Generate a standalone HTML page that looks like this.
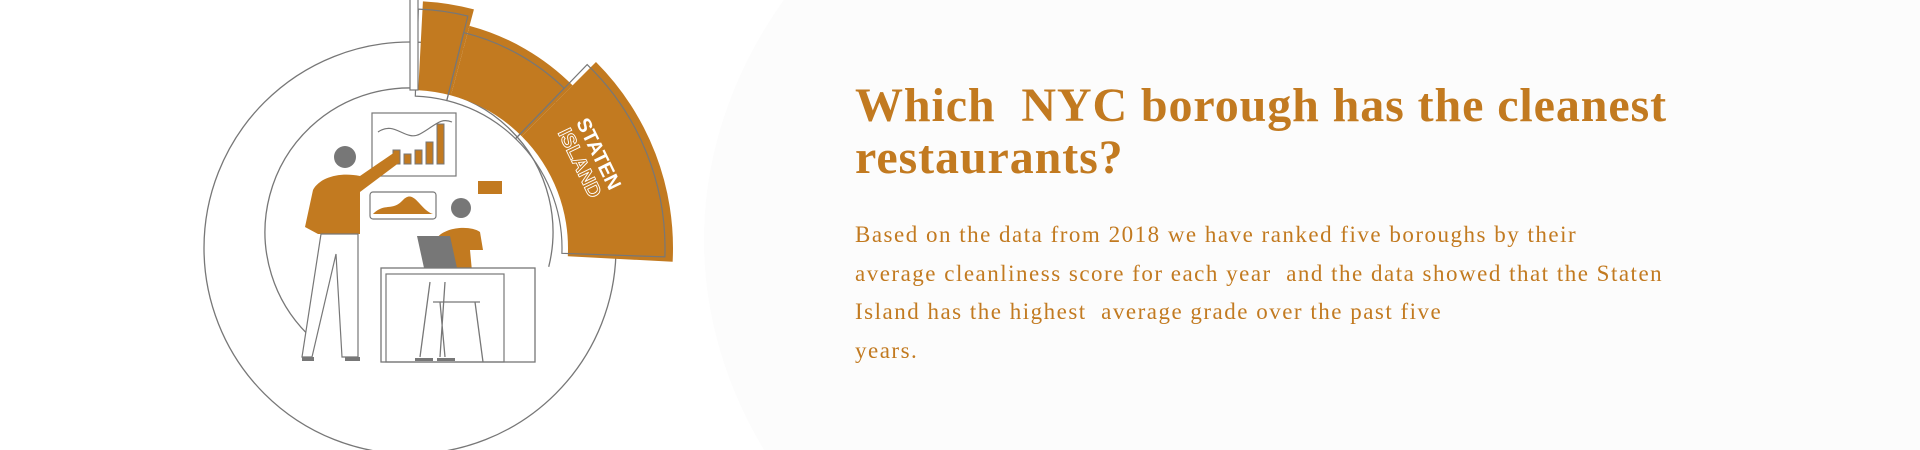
<!DOCTYPE html>
<html style="width:1920px;height:450px;overflow:hidden"><head><meta charset="utf-8"><style>
html,body{margin:0;width:1920px;height:450px;overflow:hidden;background:#fff}
#wrap{position:relative;width:1920px;height:450px;overflow:hidden;font-family:"Liberation Serif",serif}
#bg{position:absolute;left:704px;top:-260px;width:1300px;height:1000px;border-radius:50%;background:#fcfcfc}
h1{position:absolute;left:855px;top:80px;margin:0;font-size:48px;line-height:52px;color:#c27a20;font-weight:bold;letter-spacing:0.9px;white-space:pre}
#body{position:absolute;left:855px;top:216px;font-size:23px;line-height:38.5px;letter-spacing:1.5px;color:#c27a20;white-space:pre}
svg{position:absolute;left:0;top:0}
</style></head><body>
<div id="wrap">
<div id="bg"></div>
<svg id="chart" width="720" height="450"></svg>
<h1>Which  NYC borough has the cleanest
restaurants?</h1>
<div id="body">Based on the data from 2018 we have ranked five boroughs by their
average cleanliness score for each year  and the data showed that the Staten
Island has the highest  average grade over the past five
years.</div>
</div>
<script>
const boroughs=["Manhattan","Brooklyn","Staten Island"];
const startAngles=[3,15,45];
const endAngles=[15,45,93];
const outerValues=[247,230,263];
const cx=410,cy=248,rIn=158;
const NS="http://www.w3.org/2000/svg";
const svg=document.getElementById('chart');
function ptc(x0,y0,r,a){const t=(a-90)*Math.PI/180;return [x0+r*Math.cos(t),y0+r*Math.sin(t)];}
function pt(r,a){return ptc(cx,cy,r,a);}
function wedge(r0,r1,a0,a1){const p1=pt(r1,a0),p2=pt(r1,a1),p3=pt(r0,a1),p4=pt(r0,a0);const lg=(a1-a0)>180?1:0;
return `M${p1}A${r1},${r1} 0 ${lg} 1 ${p2}L${p3}A${r0},${r0} 0 ${lg} 0 ${p4}Z`;}
function add(tag,attrs,name,parent){const e=document.createElementNS(NS,tag);for(const k in attrs)e.setAttribute(k,attrs[k]);


(parent||svg).appendChild(e);return e;}
add('circle',{cx:410,cy:248,r:206,fill:'none',stroke:'#777','stroke-width':1.3},'outer-ring');
const a1=ptc(409,232,144,225),a2=ptc(409,232,144,104);
add('path',{d:`M${a1}A144,144 0 1 1 ${a2}`,fill:'none',stroke:'#777','stroke-width':1.3},'inner-ring');
boroughs.forEach((b,i)=>{
  add('path',{d:wedge(rIn,outerValues[i],startAngles[i],endAngles[i]),fill:'#c27a20'},'segment-'+b.toLowerCase().replace(' ','-'));
  add('path',{d:wedge(rIn-6,outerValues[i]-8,startAngles[i]-1,endAngles[i]-1),fill:'none',stroke:'#777','stroke-width':1.2},'segment-outline-'+i);
});
add('rect',{x:410,y:-2,width:8,height:92,fill:'#fff',stroke:'#777','stroke-width':1.2},'segment-gap');
const t=add('text',{x:0,y:0,fill:'#fff','font-family':'Liberation Sans, sans-serif','font-weight':'bold','font-size':20,transform:'translate(590,158) rotate(64)','text-anchor':'middle'},'staten-island-label');
t.innerHTML='<tspan x="0" dy="-3">STATEN</tspan><tspan x="0" dy="21" fill="none" stroke="#fff" stroke-width="0.9">ISLAND</tspan>';
const g='#777',o='#c27a20';
const ill=add('g',{transform:'translate(0,-18)'},'illustration');
add('rect',{x:372,y:131,width:84,height:63,fill:'#fff',stroke:g,'stroke-width':1.2},'wall-chart',ill);
[[393,14],[404,10],[415,14],[426,22],[437,40]].forEach((b,i)=>{add('rect',{x:b[0],y:182-b[1],width:7,height:b[1],fill:o,stroke:g,'stroke-width':1},'wall-bar-'+i,ill);});
add('path',{d:'M378,150 C395,138 405,160 420,152 S440,135 452,140',fill:'none',stroke:g,'stroke-width':1.2},'wall-line',ill);
add('rect',{x:370,y:210,width:66,height:27,rx:3,fill:'#fff',stroke:g,'stroke-width':1.2},'speech-bubble',ill);
add('path',{d:'M373,232 C385,220 392,230 403,218 S420,228 433,232 Z',fill:o},'bubble-wave',ill);
add('rect',{x:478,y:199,width:24,height:13,fill:o},'note-icon',ill);
add('circle',{cx:345,cy:175,r:11,fill:g},'man-head',ill);
add('path',{d:'M313,208 C320,195 340,190 360,194 L395,170 L400,180 L360,210 L360,252 L318,252 L305,245 Z',fill:o},'man-shirt',ill);
add('path',{d:'M321,252 L302,375 L312,375 L336,272 L342,375 L358,375 L358,252 Z',fill:'#fff',stroke:g,'stroke-width':1.2},'man-pants',ill);
add('rect',{x:302,y:375,width:12,height:4,fill:g},'man-shoe-1',ill);
add('rect',{x:345,y:375,width:15,height:4,fill:g},'man-shoe-2',ill);
add('circle',{cx:461,cy:226,r:10,fill:g},'woman-head',ill);
add('path',{d:'M437,256 C445,245 470,243 480,250 L483,268 L470,268 L473,300 L440,300 Z',fill:o},'woman-shirt',ill);
add('rect',{x:381,y:286,width:154,height:94,fill:'#fff',stroke:g,'stroke-width':1.3},'desk',ill);
add('rect',{x:386,y:292,width:118,height:88,fill:'none',stroke:g,'stroke-width':1.2},'desk-inner',ill);
add('path',{d:'M417,254 L450,254 L457,286 L424,286 Z',fill:g},'laptop',ill);
add('path',{d:'M430,300 L420,375 M445,300 L440,375 M433,320 L480,320 M440,320 L445,375 M475,320 L483,380',fill:'none',stroke:g,'stroke-width':1.3},'chair',ill);
add('rect',{x:415,y:376,width:18,height:3,fill:g},'woman-shoe-1',ill);
add('rect',{x:437,y:376,width:18,height:3,fill:g},'woman-shoe-2',ill);
</script>
</body></html>
